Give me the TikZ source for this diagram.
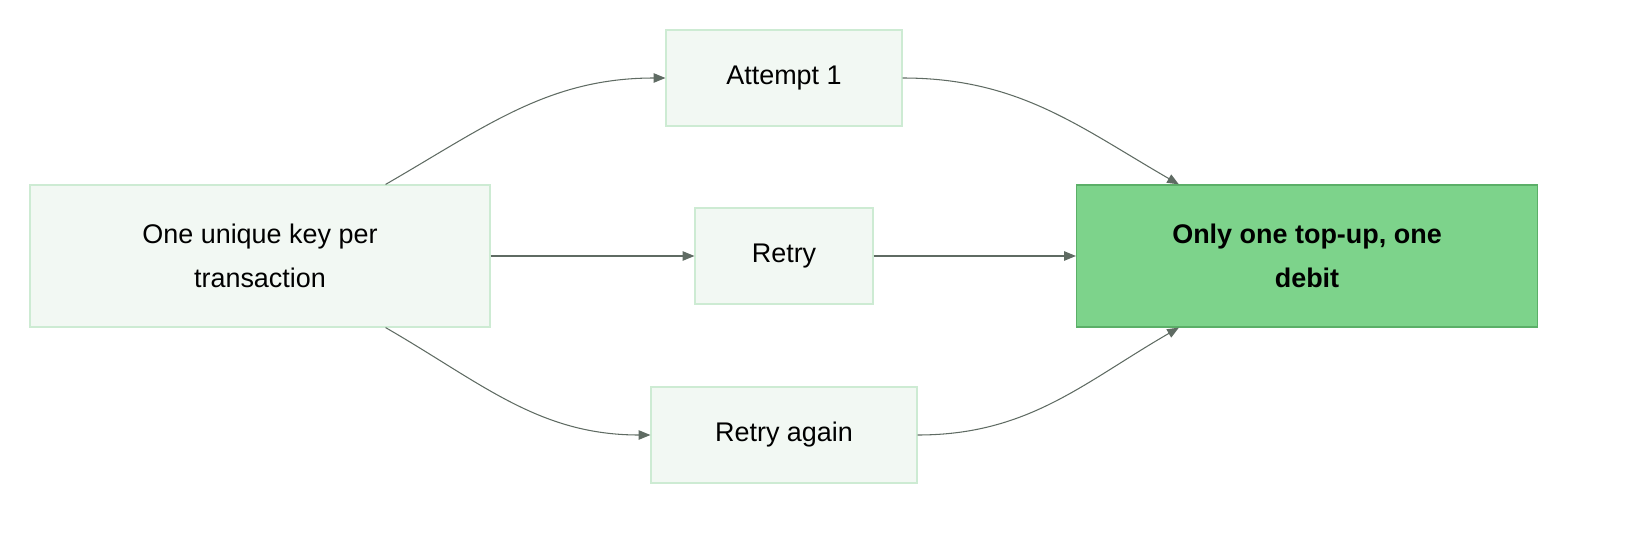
\documentclass[tikz,border=0pt]{standalone}
\usepackage{fontspec}
\setmainfont{Liberation Sans}
\usetikzlibrary{calc,arrows.meta}
\definecolor{boxfill}{HTML}{F2F8F3}
\definecolor{boxline}{HTML}{CDEBD3}
\definecolor{goalfill}{HTML}{7DD38B}
\definecolor{goalline}{HTML}{5BAF68}
\definecolor{arrowgray}{HTML}{5F6B63}
\begin{document}
\begin{tikzpicture}[x=0.03cm,y=-0.03cm,
    stage/.style={draw=boxline, fill=boxfill, line width=1pt, inner sep=0pt, align=center, font=\fontsize{23}{38}\selectfont},
    link/.style={draw=arrowgray, line width=0.9pt, -{Triangle[length=10pt,width=8pt]}}]
    \useasboundingbox (0,0) rectangle (1632,535);
    % Boxes
    \node[stage, minimum width=460*0.03cm, minimum height=142*0.03cm] (key) at (260,256) {One unique key per\\transaction};
    \node[stage, minimum width=236*0.03cm, minimum height=96*0.03cm] (att1) at (784,78) {Attempt 1};
    \node[stage, minimum width=178*0.03cm, minimum height=96*0.03cm] (retry) at (784,256) {Retry};
    \node[stage, minimum width=266*0.03cm, minimum height=96*0.03cm] (again) at (784,435) {Retry again};
    \node[stage, draw=goalline, fill=goalfill, minimum width=461*0.03cm, minimum height=142*0.03cm, font=\fontsize{23}{38}\selectfont\bfseries] (only) at (1307,256) {Only one top-up, one\\debit};
    % Attach points
    \coordinate (keytop) at ($(key.north east)+(-105,0)$);
    \coordinate (keybot) at ($(key.south east)+(-105,0)$);
    \coordinate (onlytop) at ($(only.north west)+(103,0)$);
    \coordinate (onlybot) at ($(only.south west)+(103,0)$);
    % Connectors
    \draw[link] (keytop) to[out=30, in=180] (att1.west);
    \draw[link] (key.east) -- (retry.west);
    \draw[link] (keybot) to[out=-30, in=180] (again.west);
    \draw[link] (att1.east) to[out=0, in=150] (onlytop);
    \draw[link] (retry.east) -- (only.west);
    \draw[link] (again.east) to[out=0, in=-150] (onlybot);
\end{tikzpicture}
\end{document}
